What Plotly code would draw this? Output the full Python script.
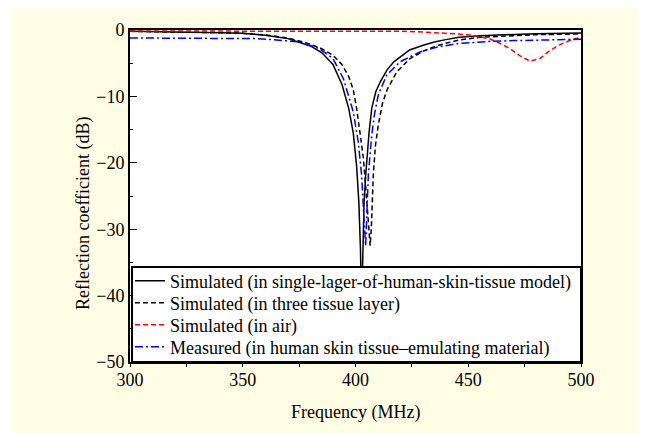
import plotly.graph_objects as go

# ---- data ----
single_f = [300, 320, 340, 350, 360, 370, 375, 380, 385, 390, 394, 397, 399, 400.5, 401.5,
            402.2, 402.7, 403.2, 403.8, 404.5, 405.2, 406, 407.2, 409, 411, 414, 417, 420,
            424, 430, 435, 440, 446, 455, 465, 480, 500]
single_db = [-0.2, -0.25, -0.4, -0.5, -0.8, -1.3, -1.8, -2.4, -3.4, -5.2, -8.2, -11.8, -15.5,
             -20.5, -26, -33, -42, -32, -26, -22, -18.5, -15.5, -11.8, -9.3, -7.8, -6.0, -4.8,
             -4.0, -3.0, -2.3, -1.8, -1.45, -1.1, -0.85, -0.7, -0.55, -0.45]

three_f = [300, 320, 340, 350, 360, 370, 378, 385, 390, 394, 397, 399, 400.5, 402, 403.5,
           404.5, 405.3, 406, 406.5, 407, 407.9, 408.8, 410.1, 412, 414, 418.3, 424.2, 430,
           435, 440, 446, 455, 465, 480, 500]
three_db = [-0.2, -0.25, -0.4, -0.5, -0.75, -1.2, -1.9, -2.8, -3.8, -5.2, -7.0, -9.0, -11.8,
            -15.5, -19.3, -23.5, -27, -31, -32.5, -30, -21.8, -17.5, -14.3, -11.0, -9.0, -6.3,
            -4.3, -3.2, -2.5, -2.0, -1.5, -1.1, -0.9, -0.7, -0.6]

air_f = [300, 350, 400, 420, 430, 437.5, 445, 450.8, 455, 459.6, 464, 468.5, 473, 477.4,
         481.8, 485.4, 490, 493.8, 497, 500]
air_db = [-0.15, -0.15, -0.15, -0.2, -0.3, -0.4, -0.6, -0.75, -1.0, -1.35, -2.0, -2.8, -3.9,
          -4.7, -4.3, -3.3, -2.3, -1.75, -1.3, -1.15]

meas_f = [300, 320, 340, 357, 365, 375, 384, 390, 394.6, 397, 399, 401.2, 402.7, 403.9,
          404.5, 405.0, 405.7, 407.2, 408.5, 410.1, 413.8, 419.7, 428.6, 436, 446, 452, 460,
          470, 480, 490, 500]
meas_db = [-1.2, -1.2, -1.25, -1.3, -1.5, -1.8, -2.8, -4.3, -7.3, -10, -12.3, -16.8, -21.8,
           -29.4, -32.5, -28, -21.8, -15.8, -12.5, -9.8, -6.8, -4.8, -3.3, -2.6, -2.0, -1.9,
           -1.7, -1.6, -1.5, -1.45, -1.4]

names = [
    "Simulated (in single-lager-of-human-skin-tissue model)",
    "Simulated (in three tissue layer)",
    "Simulated (in air)",
    "Measured (in human skin tissue\u2013emulating material)",
]

x_ticks = [300, 350, 400, 450, 500]
y_ticks = [0, -10, -20, -30, -40, -50]

FONT = "Liberation Serif, Times New Roman, serif"
CREAM = "#FFFEE4"

# page has an 8px body margin; figure coordinates = page coordinates - 8
OFF = 8
W, H = 646 - OFF, 434 - OFF
L, T = 130 - OFF, 30 - OFF
R = W - (581 - OFF)
B = H - (362 - OFF)
pw, ph = W - L - R, H - T - B


def px_x(p):  # page pixel x -> paper
    return (p - OFF - L) / pw


def px_y(p):  # page pixel y -> paper
    return (T + ph - (p - OFF)) / ph


fig = go.Figure()
fig.add_trace(go.Scatter(x=single_f, y=single_db, mode="lines", name=names[0],
                         legend="legend",
                         line=dict(color="black", width=1.5)))
fig.add_trace(go.Scatter(x=three_f, y=three_db, mode="lines", name=names[1],
                         legend="legend2",
                         line=dict(color="black", width=1.5, dash="5px,3px")))
fig.add_trace(go.Scatter(x=air_f, y=air_db, mode="lines", name=names[2],
                         legend="legend3",
                         line=dict(color="#FF0000", width=1.5, dash="5px,3px")))
fig.add_trace(go.Scatter(x=meas_f, y=meas_db, mode="lines", name=names[3],
                         legend="legend4",
                         line=dict(color="#0000FF", width=1.5, dash="8px,3px,2px,3px")))

row_y = [281, 303, 325, 347]  # page pixel centres of legend rows


def leg(yc):
    return dict(x=0, y=px_y(yc), xanchor="left", yanchor="middle",
                bgcolor="rgba(0,0,0,0)", borderwidth=0,
                font=dict(family=FONT, size=18, color="black"),
                tracegroupgap=0, itemwidth=30)


fig.update_layout(
    width=W, height=H,
    margin=dict(l=L, r=R, t=T, b=B, pad=0),
    paper_bgcolor="white",
    plot_bgcolor="white",
    font=dict(family=FONT, size=18, color="black"),
    showlegend=True,
    legend=leg(row_y[0]),
    legend2=leg(row_y[1]),
    legend3=leg(row_y[2]),
    legend4=leg(row_y[3]),
    shapes=[
        dict(type="rect", xref="paper", yref="paper",
             x0=px_x(12), x1=px_x(646), y0=px_y(434), y1=px_y(OFF),
             fillcolor=CREAM, line=dict(width=0), layer="below"),
        dict(type="rect", xref="paper", yref="paper", x0=0, x1=1, y0=0, y1=1,
             fillcolor="white", line=dict(width=0), layer="below"),
        # legend frame
        dict(type="rect", xref="paper", yref="paper",
             x0=px_x(132), x1=1, y0=0, y1=px_y(267),
             fillcolor="white", line=dict(color="black", width=2), layer="above"),
    ],
    annotations=[
        dict(text="Frequency (MHz)", xref="paper", yref="paper",
             x=0.5, y=px_y(412), xanchor="center", yanchor="middle",
             showarrow=False, font=dict(family=FONT, size=18)),
        dict(text="Reflection coefficient (dB)", xref="paper", yref="paper",
             x=px_x(83), y=px_y(213), xanchor="center", yanchor="middle",
             textangle=-90, showarrow=False, font=dict(family=FONT, size=18)),
    ],
)

fig.update_xaxes(range=[300, 500], tickvals=x_ticks, ticktext=[str(v) for v in x_ticks],
                 ticks="outside", ticklen=3, tickwidth=1, tickcolor="black",
                 ticklabelstandoff=-3,
                 minor=dict(tickvals=[325, 375, 425, 475], ticks="outside", ticklen=3,
                            tickcolor="black"),
                 showline=True, linecolor="black", linewidth=2, mirror=True,
                 showgrid=False, zeroline=False,
                 tickfont=dict(family=FONT, size=18, color="black"))
fig.update_yaxes(range=[-50, 0], tickvals=y_ticks,
                 ticks="inside", ticklen=7, tickwidth=1, tickcolor="black",
                 minor=dict(tickvals=[-5, -15, -25, -35, -45], ticks="inside", ticklen=3,
                            tickcolor="black"),
                 showline=True, linecolor="black", linewidth=2, mirror=True,
                 showgrid=False, zeroline=False,
                 tickfont=dict(family=FONT, size=18, color="black"))

fig.write_html("out.html")
